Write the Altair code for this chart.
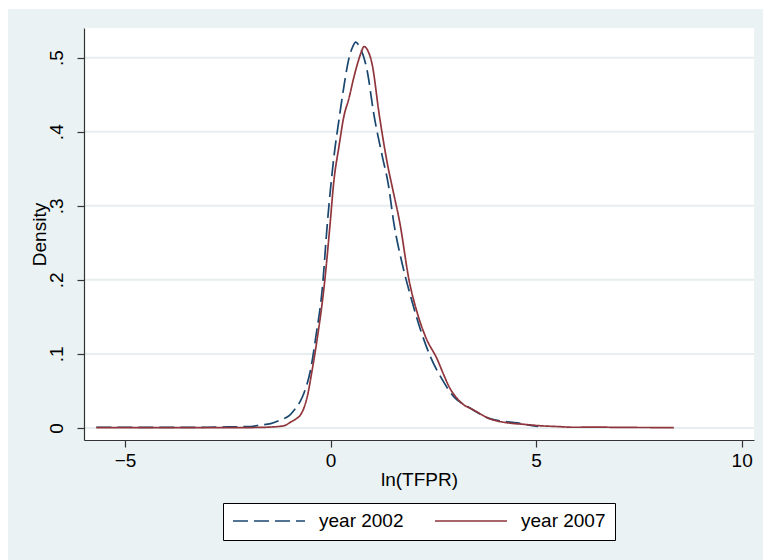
import altair as alt
import pandas as pd

# ---- data ----
series = ["year 2002", "year 2007"]

x_2002 = [-5.7, -5.0, -4.0, -3.0, -2.5, -1.95, -1.7, -1.46, -1.22, -1.0, -0.89, -0.73,
          -0.65, -0.57, -0.49, -0.36, -0.2, -0.08, 0.08, 0.2, 0.32, 0.45, 0.54, 0.61,
          0.7, 0.89, 1.05, 1.26, 1.40, 1.54, 1.74, 1.95, 2.19, 2.43, 2.72, 3.0, 3.33,
          3.6, 3.85, 4.2, 4.54, 4.8, 5.05]
d_2002 = [0.001, 0.001, 0.0008, 0.001, 0.0015, 0.002, 0.004, 0.006, 0.011, 0.017, 0.024, 0.037,
          0.047, 0.06, 0.078, 0.123, 0.19, 0.276, 0.366, 0.415, 0.46, 0.50, 0.515, 0.521,
          0.515, 0.482, 0.424, 0.366, 0.33, 0.276, 0.222, 0.177, 0.132, 0.096, 0.065, 0.042, 0.029,
          0.02, 0.013, 0.009, 0.007, 0.004, 0.002]

x_2007 = [-5.7, -5.0, -4.0, -3.0, -2.0, -1.7, -1.4, -1.14, -0.97, -0.85, -0.73, -0.65,
          -0.57, -0.45, -0.32, -0.16, -0.02, 0.08, 0.2, 0.32, 0.45, 0.55, 0.65, 0.75,
          0.81, 0.9, 1.01, 1.18, 1.38, 1.52, 1.68, 1.91, 2.11, 2.31, 2.6, 2.75, 2.88,
          3.16, 3.49, 3.85, 4.3, 4.7, 5.11, 5.5, 5.92, 6.5, 7.0, 7.5, 8.35]
d_2007 = [0.0005, 0.0005, 0.0005, 0.0005, 0.0006, 0.0008, 0.0015, 0.003, 0.008, 0.012, 0.018, 0.027,
          0.042, 0.078, 0.123, 0.19, 0.271, 0.334, 0.379, 0.42, 0.446, 0.47, 0.491, 0.508,
          0.515, 0.51, 0.491, 0.424, 0.357, 0.32, 0.278, 0.199, 0.155, 0.123, 0.092, 0.072, 0.056,
          0.035, 0.024, 0.013, 0.007, 0.005, 0.003, 0.002, 0.001, 0.0012, 0.0008, 0.0007, 0.0005]

y_ticks = [0, 0.1, 0.2, 0.3, 0.4, 0.5]
x_ticks = [-5, 0, 5, 10]

df = pd.concat([
    pd.DataFrame({"x": x_2002, "density": d_2002, "series": series[0]}),
    pd.DataFrame({"x": x_2007, "density": d_2007, "series": series[1]}),
], ignore_index=True)
grid_df = pd.DataFrame({"density": y_ticks})

# ---- layout / style ----
W, H = 670, 412
FONT = "Liberation Sans"
BG = "#eaf2f3"
colors = ["#1a476f", "#90353b"]

xscale = alt.Scale(domain=[-6.0, 10.3], nice=False, zero=False)
yscale = alt.Scale(domain=[-0.0162, 0.54], nice=False, zero=False)

yaxis = alt.Axis(values=y_ticks, title="Density", grid=False, zindex=1, tickSize=7,
                 labelAngle=270, labelPadding=11, titlePadding=-2,
                 labelExpr="datum.value == 0 ? '0' : replace(format(datum.value, '.1f'), '0.', '.')")
xaxis = alt.Axis(values=x_ticks, title="ln(TFPR)", grid=False, zindex=1, tickSize=7,
                 labelPadding=4, titlePadding=0, format="d")

one = alt.Data(values=[{"k": 0}])
frame = alt.Chart(one).mark_rect(color=BG).encode(
    x=alt.value(-76), x2=alt.value(679), y=alt.value(-19), y2=alt.value(532))
panel = alt.Chart(one).mark_rect(color="white").encode(
    x=alt.value(0), x2=alt.value(W), y=alt.value(0), y2=alt.value(H))

grid = alt.Chart(grid_df).mark_rule(color="#e6eef0", strokeWidth=2).encode(
    y=alt.Y("density:Q", scale=yscale, axis=yaxis))

leg = alt.Legend(orient="none", legendX=139, legendY=475, direction="horizontal", columns=2,
                 title=None, strokeColor="black", fillColor="white", padding=9,
                 symbolSize=5184, symbolStrokeWidth=1.5, symbolType="stroke", clipHeight=18,
                 labelFontSize=19, labelFont=FONT, labelColor="black", labelOffset=13,
                 columnPadding=30, labelLimit=400, zindex=1)

lines = alt.Chart(df).mark_line(strokeWidth=1.7, interpolate="monotone").encode(
    x=alt.X("x:Q", scale=xscale, axis=xaxis),
    y=alt.Y("density:Q", scale=yscale, axis=yaxis),
    color=alt.Color("series:N", scale=alt.Scale(domain=series, range=colors), legend=leg),
    strokeDash=alt.StrokeDash("series:N", scale=alt.Scale(domain=series, range=[[15, 6], [1, 0]]),
                              legend=leg),
)

chart = alt.layer(frame, panel, grid, lines).properties(
    width=W, height=H, autosize="none",
    padding={"left": 84, "top": 28, "right": 9, "bottom": 120},
    background="white",
).configure_view(stroke=None).configure_axis(
    labelFont=FONT, titleFont=FONT, labelFontSize=19, titleFontSize=19,
    labelColor="black", titleColor="black", titleFontWeight="normal",
    domainColor="#333333", domainWidth=1.2, tickColor="#333333", tickWidth=1.2,
)

chart.save("out.html", embed_options={"renderer": "svg", "actions": False})
